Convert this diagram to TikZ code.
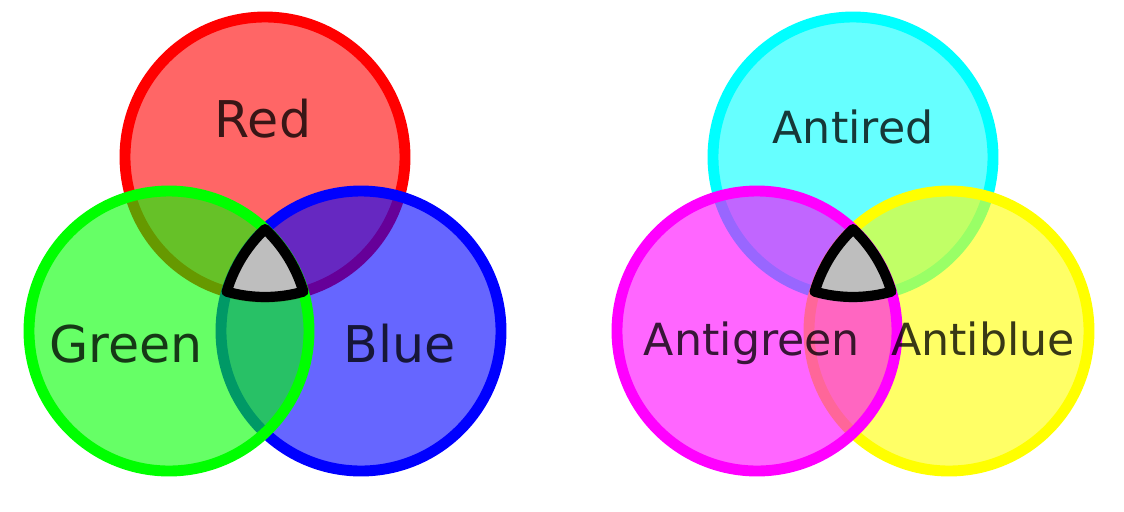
\documentclass[tikz,border=0pt]{standalone}
\usepackage{fontspec}
\setmainfont{DejaVu Sans}
\usepackage{tikz}
\usetikzlibrary{calc}
\definecolor{cred}{HTML}{FF0000}
\definecolor{cgreen}{HTML}{00FF00}
\definecolor{cblue}{HTML}{0000FF}
\definecolor{ccyan}{HTML}{00FFFF}
\definecolor{cmagenta}{HTML}{FF00FF}
\definecolor{cyellow}{HTML}{FFFF00}
\definecolor{coregrey}{HTML}{BEBEBE}
\tikzset{
  disc/.style={
    fill=#1, draw=#1, fill opacity=0.6, draw opacity=1, line width=3.1pt
  },
  core/.style={fill=coregrey, draw=black, line width=2.9pt, line join=round},
  lab/.style={text=black, text opacity=0.78, anchor=base, inner sep=0pt},
  bigl/.style={lab, font=\fontsize{14.4}{17}\selectfont},
  smalll/.style={lab, font=\fontsize{12.6}{15}\selectfont}
}

\begin{document}
\begin{tikzpicture}[x=0.01cm, y=0.01cm]
  \fill[white] (0,0) rectangle (1124,511);
  \useasboundingbox (0,0) rectangle (1124,511);
  % top, right, left disc: right one is laid before left one
  \foreach \dx/\ctop/\cright/\cleft in {0/cred/cblue/cgreen, 588/ccyan/cyellow/cmagenta} {
    \begin{scope}[xshift=\dx*0.01cm]
      \coordinate (top) at (265,354);
      \coordinate (right) at (361,180);
      \coordinate (left) at (169,180);
      \draw[disc=\ctop] (top) circle[radius=140];
      \draw[disc=\cright] (right) circle[radius=140];
      \draw[disc=\cleft] (left) circle[radius=140];
      % common part of all three
      \filldraw[core] (226.6,219.4)
        arc[start angle=254.08, end angle=285.92, radius=140]
        arc[start angle=16.34, end angle=46.7, radius=140]
        arc[start angle=133.3, end angle=163.66, radius=140] -- cycle;
    \end{scope}
  }
  \node[bigl] (red) at (263,374) {Red};
  \node[bigl] (green) at (126,149) {Green};
  \node[bigl] (blue) at (400,149) {Blue};
  \node[smalll] (antired) at (853,368) {Antired};
  \node[smalll] (antigreen) at (752,156) {Antigreen};
  \node[smalll] (antiblue) at (983,156) {Antiblue};
\end{tikzpicture}
\end{document}
